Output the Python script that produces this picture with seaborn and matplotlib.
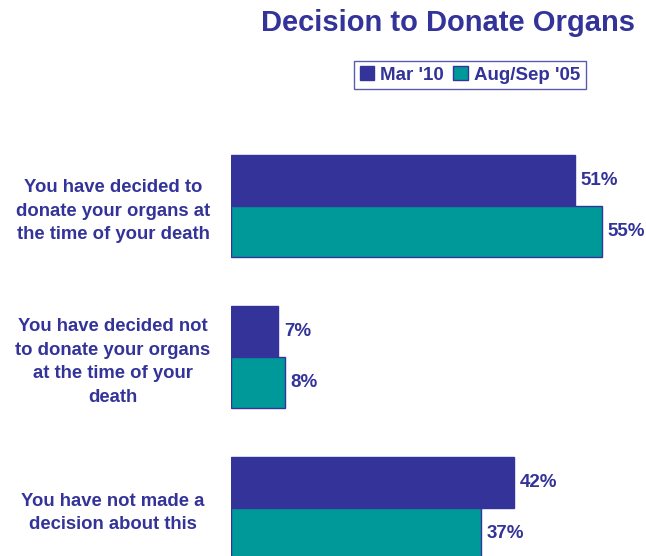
import matplotlib.pyplot as plt
import seaborn as sns
import pandas as pd

categories = [
    "You have decided to\ndonate your organs at\nthe time of your death",
    "You have decided not\nto donate your organs\nat the time of your\ndeath",
    "You have not made a\ndecision about this",
]
periods = ["Mar '10", "Aug/Sep '05"]
mar_10 = [51, 7, 42]
aug_sep_05 = [55, 8, 37]

NAVY = "#333399"
TEAL = "#009999"

sns.set_style("white")
plt.rcParams["font.family"] = ["Liberation Sans", "DejaVu Sans"]

df = pd.DataFrame({
    "category": categories * 2,
    "period": [periods[0]] * 3 + [periods[1]] * 3,
    "value": mar_10 + aug_sep_05,
})

fig = plt.figure(figsize=(6.46, 5.56), dpi=100)
ax = fig.add_axes([231 / 646, 0, 415 / 646, 426 / 556])

sns.barplot(data=df, x="value", y="category", hue="period", hue_order=periods,
            order=categories, palette=[NAVY, TEAL], saturation=1, orient="h",
            width=0.675, edgecolor=NAVY, linewidth=1, legend=False, ax=ax)

ax.set_xlim(0, 61.5)
ax.set_ylim(2.318, -0.503)
ax.set_xlabel("")
ax.set_ylabel("")
ax.set_xticks([])
sns.despine(ax=ax, left=True, bottom=True)

ax.tick_params(axis="y", length=0, pad=85)
for lbl in ax.get_yticklabels():
    lbl.set_ha("center")
    lbl.set_multialignment("center")
    lbl.set_linespacing(1.5)
    lbl.set_fontsize(13.3)
    lbl.set_fontweight("bold")
    lbl.set_color(NAVY)

for cont in ax.containers:
    ax.bar_label(cont, fmt="{:.0f}%", padding=4, fontsize=13.5,
                 fontweight="bold", color=NAVY)

leg = ax.legend(ax.containers, periods, loc="center",
                bbox_to_anchor=(470 / 646, 1 - 75 / 556),
                bbox_transform=fig.transFigure, ncol=2, frameon=True,
                fancybox=False, edgecolor=NAVY, handlelength=0.75,
                handleheight=0.75, handletextpad=0.35, columnspacing=0.5,
                borderpad=0.3, prop={"size": 13.5, "weight": "bold"},
                labelcolor=NAVY)
leg.get_frame().set_linewidth(1)

fig.text(448 / 646, 1 - 23 / 556, "Decision to Donate Organs", ha="center",
         va="center", fontsize=21, fontweight="bold", color=NAVY)

fig.savefig("out.png", dpi=100)
